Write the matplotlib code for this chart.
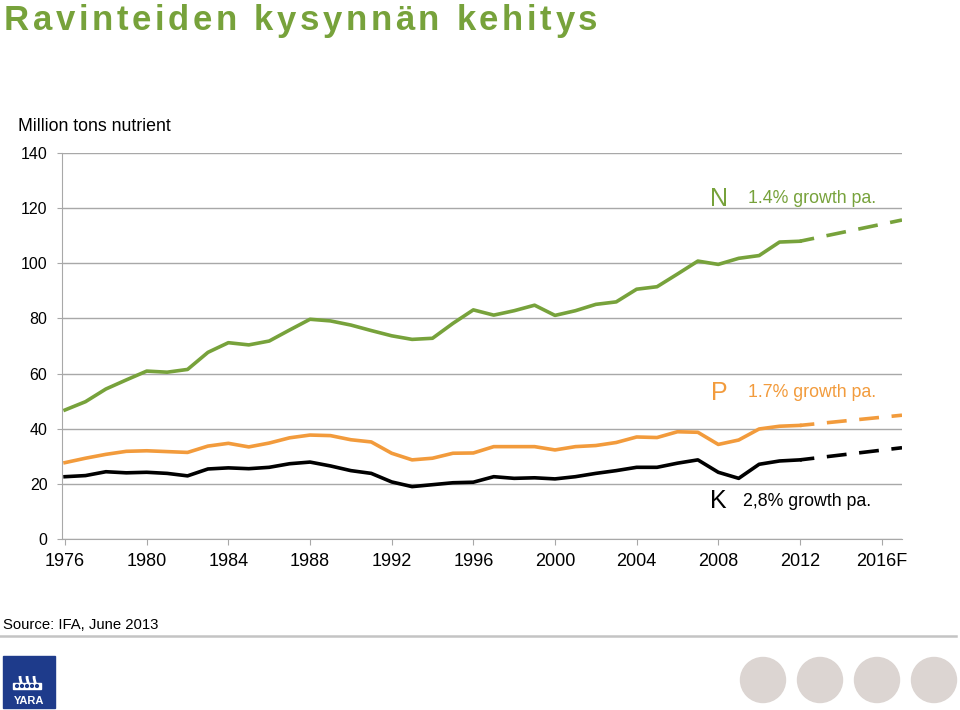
import matplotlib
matplotlib.use("Agg")
import matplotlib.pyplot as plt
from matplotlib.patches import Circle, Rectangle, Arc
from matplotlib.font_manager import FontProperties, findfont, get_font

years = list(range(1976, 2013))
n_vals = [46.8, 49.8, 54.4, 57.7, 60.9, 60.5, 61.5, 67.7, 71.2, 70.4,
          71.8, 75.8, 79.7, 79.1, 77.6, 75.6, 73.7, 72.4, 72.8, 78.2,
          83.1, 81.2, 82.8, 84.8, 81.1, 82.8, 85.1, 86.0, 90.6, 91.5,
          96.1, 100.8, 99.6, 101.8, 102.8, 107.7, 108.0]
p_vals = [27.7, 29.3, 30.7, 31.8, 32.0, 31.7, 31.4, 33.7, 34.7, 33.4,
          34.8, 36.7, 37.7, 37.5, 36.0, 35.2, 31.1, 28.7, 29.3, 31.1,
          31.2, 33.5, 33.5, 33.5, 32.3, 33.5, 33.9, 35.0, 37.0, 36.8,
          38.9, 38.7, 34.3, 35.9, 39.9, 40.9, 41.2]
k_vals = [22.6, 23.0, 24.4, 24.0, 24.2, 23.8, 22.9, 25.4, 25.8, 25.5,
          26.0, 27.3, 27.9, 26.5, 24.8, 23.8, 20.7, 19.0, 19.7, 20.4,
          20.6, 22.6, 22.0, 22.2, 21.8, 22.6, 23.8, 24.8, 26.0, 26.0,
          27.5, 28.7, 24.2, 22.0, 27.1, 28.3, 28.7]

# forecast segments (2012 -> 2017)
fc_years = [2012, 2017]
n_fc = [108.0, 115.7]
p_fc = [41.2, 44.9]
k_fc = [28.7, 33.1]

tick_years = [1976, 1980, 1984, 1988, 1992, 1996, 2000, 2004, 2008, 2012, 2016]
tick_labels = ['1976', '1980', '1984', '1988', '1992', '1996', '2000', '2004', '2008', '2012', '2016F']

green = '#77A23B'
orange = '#F29B3C'
black = '#000000'
grid = '#A8A8A8'

plt.rcParams['font.family'] = ['Liberation Sans', 'DejaVu Sans']

W, H = 960, 710
fig = plt.figure(figsize=(W / 100, H / 100), dpi=100)

# overlay in pixel coordinates for decorations
ov = fig.add_axes([0, 0, 1, 1])
ov.set_xlim(0, W)
ov.set_ylim(H, 0)
ov.axis('off')

ax = fig.add_axes([62 / W, 171 / H, 840 / W, 386 / H])
ax.set_facecolor('none')

ax.plot(years, n_vals, color=green, lw=2.6)
ax.plot(years, p_vals, color=orange, lw=2.6)
ax.plot(years, k_vals, color=black, lw=2.6)
ax.plot(fc_years, n_fc, color=green, lw=2.6, linestyle=(1.5, (5.5, 3.5)))
ax.plot(fc_years, p_fc, color=orange, lw=2.6, linestyle=(1.5, (5.5, 3.5)))
ax.plot(fc_years, k_fc, color=black, lw=2.6, linestyle=(1.5, (5.5, 3.5)))

ax.set_xlim(1975.85, 2017.0)
ax.set_ylim(0, 140)
ax.set_yticks(range(0, 141, 20))
ax.yaxis.grid(True, color=grid, lw=1)
ax.set_axisbelow(True)
ax.set_xticks(tick_years)
ax.set_xticklabels(tick_labels)
for s in ['top', 'right']:
    ax.spines[s].set_visible(False)
ax.spines['left'].set_color(grid)
ax.spines['bottom'].set_color(grid)
ax.tick_params(axis='y', length=3.5, color=grid, pad=7, labelsize=11.5)
ax.tick_params(axis='x', length=4, color=grid, pad=6, labelsize=13)

# title with letter spacing
title = "Ravinteiden kysynnän kehitys"
tsize = 25
fp = FontProperties(family='Liberation Sans', weight='bold', size=tsize)
ft = get_font(findfont(fp))
ft.set_size(tsize, 100)
x = 4
for ch in title:
    ov.text(x, 30.5, ch, fontproperties=fp, color=green, va='baseline', ha='left')
    g = ft.load_char(ord(ch))
    x += g.linearHoriAdvance / 65536 + 3.6

ov.text(18, 131, "Million tons nutrient", fontsize=12.8, va='baseline', ha='left')

# series labels
ov.text(719, 206, "N", fontsize=18, color=green, ha='center', va='baseline')
ov.text(748, 203, "1.4% growth pa.", fontsize=12.8, color=green, ha='left', va='baseline')
ov.text(719, 400, "P", fontsize=18, color=orange, ha='center', va='baseline')
ov.text(748, 397, "1.7% growth pa.", fontsize=12.8, color=orange, ha='left', va='baseline')
ov.text(718, 508, "K", fontsize=18, color=black, ha='center', va='baseline')
ov.text(743, 506, "2,8% growth pa.", fontsize=12.8, color=black, ha='left', va='baseline')

# footer
ov.text(3, 629, "Source: IFA, June 2013", fontsize=10.7, ha='left', va='baseline')
ov.plot([0, 956], [636, 636], color='#C4C4C4', lw=1.8)

# logo
ov.add_patch(Rectangle((3, 656), 52, 52, color='#1E3B8B'))
for cx in [21, 28, 35]:
    ov.add_patch(Arc((cx + 6, 676), 14, 24, theta1=90, theta2=180, color='white', lw=2))
ov.add_patch(Rectangle((13, 683), 28, 6, color='white'))
for bx in [17, 22, 27, 32, 37]:
    ov.add_patch(Circle((bx, 686), 1.4, color='#1E3B8B'))
ov.text(29, 704, "YARA", color='white', fontsize=8, fontweight='bold', ha='center', va='baseline')

# decorative circles
for cx in [763, 820, 877, 934]:
    ov.add_patch(Circle((cx, 680), 22.5, color='#DCD5D2'))

fig.savefig("out.png", dpi=100)
